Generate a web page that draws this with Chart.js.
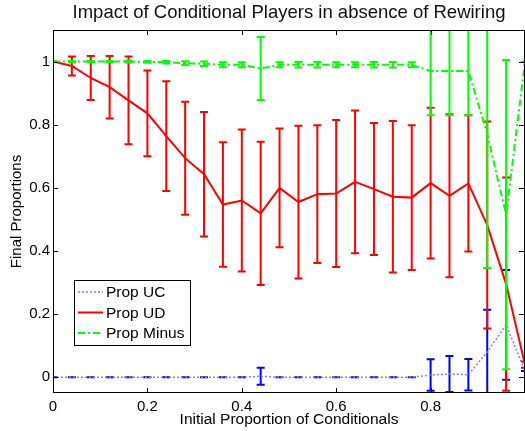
<!DOCTYPE html>
<html>
<head>
<meta charset="utf-8">
<script src="https://cdn.jsdelivr.net/npm/chart.js@4"></script>
<style>
  html, body { margin: 0; padding: 0; background: #fff; }
</style>
</head>
<body>
<canvas id="myChart" width="525" height="431"></canvas>
<script>
/* data */
const xVals = [0, 0.04, 0.08, 0.12, 0.16, 0.2, 0.24, 0.28, 0.32, 0.36, 0.4, 0.44, 0.48,
  0.52, 0.56, 0.6, 0.64, 0.68, 0.72, 0.76, 0.8, 0.84, 0.88, 0.92, 0.96, 1.0];

const ucMean = [0, 0, 0, 0, 0, 0, 0, 0, 0, 0, 0, 0.003, 0,
  0, 0, 0, 0, 0, 0, 0, 0.007, 0.01, 0.008, 0.08, 0.166, 0.02];
const ucErr = [0, 0, 0, 0, 0, 0, 0, 0, 0, 0, 0, 0.027, 0,
  0, 0, 0, 0, 0, 0, 0, 0.05, 0.057, 0.05, 0.134, 0.174, 0];

const udMean = [1.0, 0.986, 0.948, 0.919, 0.877, 0.836, 0.764, 0.694, 0.643, 0.547, 0.56, 0.519, 0.6,
  0.555, 0.58, 0.582, 0.619, 0.596, 0.572, 0.569, 0.615, 0.575, 0.614, 0.482, 0.295, 0.04];
const udErr = [0, 0.03, 0.07, 0.099, 0.139, 0.136, 0.174, 0.179, 0.197, 0.197, 0.225, 0.227, 0.188,
  0.242, 0.218, 0.233, 0.226, 0.209, 0.24, 0.229, 0.239, 0.258, 0.216, 0.328, 0.338, 0.01];

const minusMean = [1.0, 1.0, 1.0, 1.0, 1.0, 0.999, 0.998, 0.995, 0.993, 0.99, 0.99, 0.978, 0.99,
  0.99, 0.99, 0.99, 0.99, 0.99, 0.99, 0.99, 0.97, 0.97, 0.97, 0.77, 0.515, 1.0];
const minusErr = [0, 0.002, 0.002, 0.002, 0.003, 0.003, 0.004, 0.006, 0.007, 0.008, 0.008, 0.1, 0.008,
  0.009, 0.009, 0.008, 0.008, 0.009, 0.009, 0.008, 0.14, 0.14, 0.14, 0.424, 0.49, 0];

const xTicks = [0, 0.2, 0.4, 0.6, 0.8];
const xTickMarks = [0, 0.2, 0.4, 0.6, 0.8, 1];
const yTicks = [0, 0.2, 0.4, 0.6, 0.8, 1];

const FONT = '"Liberation Sans", Arial, Helvetica, sans-serif';

const pts = (ys) => xVals.map((x, i) => ({ x: x, y: ys[i] }));

/* error bars, drawn under each line */
const errorBars = {
  id: 'errorBars',
  beforeDatasetDraw(chart, args) {
    const ds = chart.data.datasets[args.index];
    if (!ds.errors) return;
    const { ctx, chartArea: a } = chart;
    const x = chart.scales.x, y = chart.scales.y;
    ctx.save();
    ctx.beginPath();
    ctx.rect(a.left, a.top, a.right - a.left, a.bottom - a.top);
    ctx.clip();
    ctx.strokeStyle = ds.barColor;
    ctx.lineWidth = 2;
    ctx.setLineDash([]);
    ds.data.forEach((p, i) => {
      const e = ds.errors[i];
      const px = x.getPixelForValue(p.x);
      const top = y.getPixelForValue(p.y + e);
      const bot = y.getPixelForValue(p.y - e);
      ctx.beginPath();
      ctx.moveTo(px, top); ctx.lineTo(px, bot);
      ctx.moveTo(px - 4, top); ctx.lineTo(px + 4, top);
      ctx.moveTo(px - 4, bot); ctx.lineTo(px + 4, bot);
      ctx.stroke();
    });
    ctx.restore();
  }
};

/* matlab style box with inward ticks */
const boxTicks = {
  id: 'boxTicks',
  afterDatasetsDraw(chart) {
    const { ctx, chartArea: a } = chart;
    const x = chart.scales.x, y = chart.scales.y;
    ctx.save();
    ctx.strokeStyle = '#000';
    ctx.lineWidth = 1;
    ctx.setLineDash([]);
    ctx.strokeRect(a.left + 0.5, a.top + 0.5, a.right - a.left - 1, a.bottom - a.top - 1);
    ctx.beginPath();
    xTickMarks.forEach((v) => {
      const px = Math.round(x.getPixelForValue(v)) + 0.5;
      ctx.moveTo(px, a.bottom); ctx.lineTo(px, a.bottom - 5);
      ctx.moveTo(px, a.top); ctx.lineTo(px, a.top + 5);
    });
    yTicks.forEach((v) => {
      const py = Math.round(y.getPixelForValue(v)) + 0.5;
      ctx.moveTo(a.left, py); ctx.lineTo(a.left + 5, py);
      ctx.moveTo(a.right - 1, py); ctx.lineTo(a.right - 6, py);
    });
    ctx.stroke();
    ctx.restore();
  }
};

/* legend box inside the plot */
const boxLegend = {
  id: 'boxLegend',
  afterDraw(chart) {
    const ctx = chart.ctx;
    const bx = 74, by = 280, bw = 116, bh = 65;
    ctx.save();
    ctx.fillStyle = '#fff';
    ctx.fillRect(bx, by, bw, bh);
    ctx.strokeStyle = '#000';
    ctx.lineWidth = 1;
    ctx.strokeRect(bx + 0.5, by + 0.5, bw, bh);
    ctx.font = '15.5px ' + FONT;
    ctx.textBaseline = 'middle';
    ctx.textAlign = 'left';
    chart.data.datasets.forEach((ds, i) => {
      const ly = by + 12 + i * 20.5;
      ctx.beginPath();
      ctx.strokeStyle = ds.borderColor;
      ctx.lineWidth = ds.borderWidth;
      ctx.setLineDash(ds.borderDash || []);
      ctx.moveTo(78, ly); ctx.lineTo(103, ly);
      ctx.stroke();
      ctx.setLineDash([]);
      ctx.fillStyle = '#000';
      ctx.fillText(ds.label, 106, ly + 1);
    });
    ctx.restore();
  }
};

const chart = new Chart(document.getElementById('myChart'), {
  type: 'line',
  data: {
    datasets: [
      {
        label: 'Prop UC',
        data: pts(ucMean),
        errors: ucErr,
        barColor: '#0000ff',
        borderColor: '#7f7fff',
        borderWidth: 1.5,
        borderDash: [2, 2],
        pointRadius: 0,
        tension: 0,
        order: 3,
      },
      {
        label: 'Prop UD',
        data: pts(udMean),
        errors: udErr,
        barColor: '#ff0000',
        borderColor: '#ff0000',
        borderWidth: 2,
        pointRadius: 0,
        tension: 0,
        order: 2,
      },
      {
        label: 'Prop Minus',
        data: pts(minusMean),
        errors: minusErr,
        barColor: '#00ff00',
        borderColor: '#00ff00',
        borderWidth: 2,
        borderDash: [7, 3, 2, 3],
        pointRadius: 0,
        tension: 0,
        order: 1,
      },
    ],
  },
  options: {
    responsive: false,
    animation: false,
    layout: { padding: { left: 0, right: -1, top: 0, bottom: 0 } },
    plugins: {
      legend: { display: false },
      tooltip: { enabled: false },
      title: {
        display: true,
        text: 'Impact of Conditional Players in absence of Rewiring',
        fullSize: false,
        color: '#111',
        font: { family: FONT, size: 18.5, weight: 'normal' },
        padding: { top: 2, bottom: 5.8 },
      },
    },
    scales: {
      x: {
        type: 'linear',
        min: 0,
        max: 1,
        grid: { display: false, drawTicks: false },
        border: { display: false },
        afterBuildTicks: (s) => { s.ticks = xTicks.map((v) => ({ value: v })); },
        afterFit: (s) => { s.height = 38; },
        ticks: {
          color: '#000',
          padding: 5,
          maxRotation: 0,
          font: { family: FONT, size: 15 },
          callback: (v) => String(v),
        },
        title: {
          display: true,
          text: 'Initial Proportion of Conditionals',
          color: '#000',
          font: { family: FONT, size: 15.5 },
          padding: { top: 0, bottom: 2 },
        },
      },
      y: {
        type: 'linear',
        min: -0.05,
        max: 1.1,
        grid: { display: false, drawTicks: false },
        border: { display: false },
        afterBuildTicks: (s) => { s.ticks = yTicks.map((v) => ({ value: v })); },
        afterFit: (s) => { s.width = 53; },
        ticks: {
          color: '#000',
          padding: 3,
          font: { family: FONT, size: 15 },
          callback: (v) => String(v),
        },
        title: {
          display: true,
          text: 'Final Proportions',
          color: '#000',
          font: { family: FONT, size: 15 },
          padding: { top: 8, bottom: 0 },
        },
      },
    },
  },
  plugins: [errorBars, boxTicks, boxLegend],
});
</script>
</body>
</html>
